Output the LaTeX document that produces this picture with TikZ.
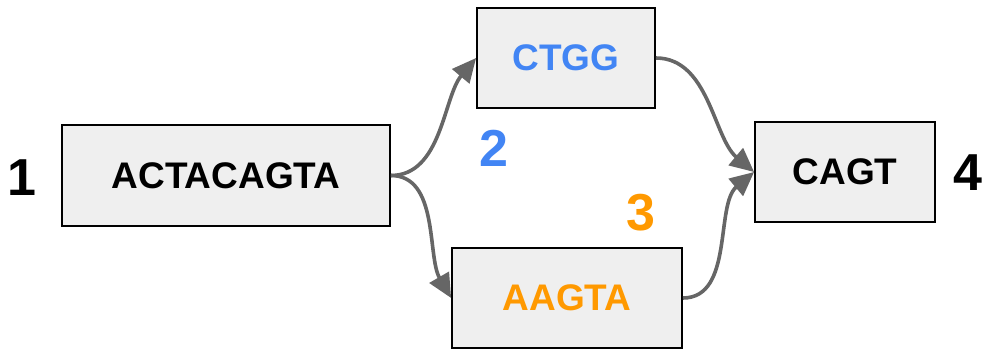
\documentclass[tikz,border=0pt]{standalone}
\usepackage{fontspec}
\setmainfont{Liberation Sans}
\usetikzlibrary{arrows.meta}
\definecolor{boxfill}{HTML}{EFEFEF}
\definecolor{linkgray}{HTML}{666666}
\definecolor{seqblue}{HTML}{4285F4}
\definecolor{seqorange}{HTML}{FF9900}
\begin{document}
\begin{tikzpicture}[x=1pt,y=-1pt,
  seqbox/.style={draw=black,line width=1.8pt,fill=boxfill,inner sep=0pt,
    font=\fontsize{37}{44}\selectfont\bfseries},
  link/.style={draw=linkgray,line width=3.6pt,-{Triangle[length=24pt,width=22pt]}},
  idx/.style={font=\fontsize{52}{58}\selectfont\bfseries}]
\useasboundingbox (0,0) rectangle (987,351);
\node[seqbox,minimum width=328pt,minimum height=101pt] (s1) at (226,175.5) {ACTACAGTA};
\node[seqbox,minimum width=178pt,minimum height=100pt,text=seqblue] (s2) at (566,58) {CTGG};
\node[seqbox,minimum width=230pt,minimum height=100pt,text=seqorange] (s3) at (567,298) {AAGTA};
\node[seqbox,minimum width=180pt,minimum height=100pt] (s4) at (845,172) {CAGT};
\node[idx] (n1) at (22,178) {1};
\node[idx,text=seqblue] (n2) at (494,148) {2};
\node[idx,text=seqorange] (n3) at (641,213) {3};
\node[idx] (n4) at (968,173) {4};
\draw[link] (s1.east) to[out=0,in=230,looseness=0.9] (s2.west);
\draw[link] (s1.east) to[out=0,in=120,looseness=0.9] (s3.west);
\draw[link] (s2.east) to[out=0,in=140,looseness=0.9] (s4.west);
\draw[link] (s3.east) to[out=0,in=220,looseness=0.9] (s4.west);
\end{tikzpicture}
\end{document}
